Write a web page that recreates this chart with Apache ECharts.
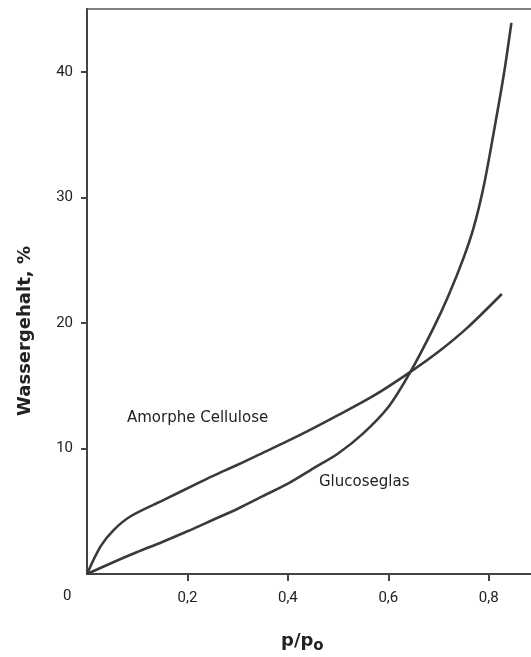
<!DOCTYPE html>
<html>
<head>
<meta charset="utf-8">
<script src="https://cdn.jsdelivr.net/npm/echarts@6/dist/echarts.min.js"></script>
<style>html,body{margin:0;padding:0;background:#fff}#c{width:531px;height:657px}</style>
</head>
<body>
<div id="c"></div>
<script>
// p/p0 values and water content (%)
var celluloseX = [0, 0.027, 0.053, 0.087, 0.153, 0.219, 0.25, 0.3, 0.35, 0.4, 0.45, 0.5, 0.571, 0.644, 0.703, 0.757, 0.826];
var celluloseY = [0, 2.2, 3.5, 4.6, 5.9, 7.2, 7.8, 8.7, 9.65, 10.6, 11.6, 12.65, 14.2, 16.1, 17.8, 19.6, 22.3];
var glucoseX = [0, 0.05, 0.1, 0.15, 0.2, 0.25, 0.3, 0.35, 0.4, 0.45, 0.5, 0.55, 0.6, 0.644, 0.69, 0.72, 0.75, 0.77, 0.79, 0.81, 0.83, 0.845];
var glucoseY = [0, 0.9, 1.75, 2.55, 3.4, 4.3, 5.2, 6.2, 7.2, 8.4, 9.6, 11.2, 13.3, 16.1, 19.6, 22.2, 25.2, 27.6, 30.9, 35.2, 39.8, 43.9];
var xTicks = [0.2, 0.4, 0.6, 0.8];
var yTicks = [10, 20, 30, 40];
var seriesNames = ['Amorphe Cellulose', 'Glucoseglas'];

function pairs(xs, ys) { return xs.map(function (x, i) { return [x, ys[i]]; }); }

var ink = '#3a3a3a';
var chart = echarts.init(document.getElementById('c'));
chart.setOption({
  animation: false,
  backgroundColor: '#fff',
  grid: { left: 87, top: 9, height: 565, width: 452, outerBoundsMode: 'none', containLabel: false,
    show: true, borderColor: '#555', borderWidth: 1.5 },
  xAxis: {
    type: 'value', min: 0, max: 0.9, interval: 0.2,
    axisLine: { show: true, lineStyle: { color: '#444', width: 2 } },
    axisTick: { show: true, length: 7, lineStyle: { color: '#444', width: 2 }, customValues: xTicks },
    axisLabel: { color: '#222', fontFamily: 'Roboto', fontSize: 15, margin: 17,
      customValues: xTicks,
      formatter: function (v) { return String(v).replace('.', ','); } },
    splitLine: { show: false }
  },
  yAxis: {
    type: 'value', min: 0, max: 45, interval: 10,
    axisLine: { show: true, lineStyle: { color: '#444', width: 2 } },
    axisTick: { show: true, length: 6, lineStyle: { color: '#444', width: 2 }, customValues: yTicks },
    axisLabel: { color: '#222', fontFamily: 'Roboto', fontSize: 15, margin: 14, customValues: yTicks },
    splitLine: { show: false }
  },
  series: [
    { name: seriesNames[0], type: 'line', data: pairs(celluloseX, celluloseY), smooth: 0.3,
      showSymbol: false, lineStyle: { color: ink, width: 2.6 } },
    { name: seriesNames[1], type: 'line', data: pairs(glucoseX, glucoseY), smooth: 0.3,
      showSymbol: false, lineStyle: { color: ink, width: 2.6 } }
  ],
  graphic: [
    { type: 'text', left: 127, top: 411, style: { text: seriesNames[0], fill: '#222', font: '15px "DejaVu Sans"' } },
    { type: 'text', left: 319, top: 475, style: { text: seriesNames[1], fill: '#222', font: '15px "DejaVu Sans"' } },
    { type: 'text', left: 63, top: 589, style: { text: '0', fill: '#222', font: '15px Roboto' } },
    { type: 'text', left: 281, top: 632, style: {
        text: 'p/p{s|o}', fill: '#222', font: 'bold 18px "DejaVu Sans"',
        rich: { s: { fontSize: 15, fontWeight: 'bold', fontFamily: 'DejaVu Sans', padding: [10, 0, 0, 0] } } } },
    { type: 'text', x: 16, y: 331, rotation: Math.PI / 2, style: {
        text: 'Wassergehalt, %', fill: '#222', font: 'bold 18px "DejaVu Sans"', align: 'center', verticalAlign: 'top' } }
  ]
});
</script>
</body>
</html>
